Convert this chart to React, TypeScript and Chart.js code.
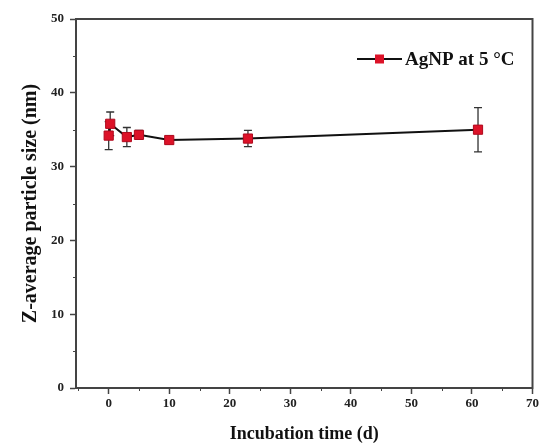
import React, { useEffect, useRef } from "react";
import { Chart, registerables } from "chart.js";

Chart.register(...registerables);

const days = [0, 0.25, 3, 5, 10, 23, 61];
const sizes = [34.2, 35.8, 34.0, 34.3, 33.6, 33.8, 35.0];
const errors = [1.9, 1.6, 1.3, 0.6, 0.5, 1.1, 3.0];
const xTicks = [0, 10, 20, 30, 40, 50, 60, 70];
const xMinorTicks = [-5, 5, 15, 25, 35, 45, 55, 65];
const yMinorTicks = [5, 15, 25, 35, 45];
const seriesLabel = "AgNP at 5 °C";

const SERIF = '"Liberation Serif", "DejaVu Serif", serif';
const RED = "#dc1228";

const extras = {
  id: "extras",
  beforeDatasetsDraw(chart: any) {
    const ctx = chart.ctx;
    const xs = chart.scales.x;
    const ys = chart.scales.y;
    ctx.save();
    ctx.strokeStyle = "#333";
    ctx.lineWidth = 1.3;
    days.forEach((d, i) => {
      const px = xs.getPixelForValue(d);
      const top = ys.getPixelForValue(sizes[i] + errors[i]);
      const bot = ys.getPixelForValue(sizes[i] - errors[i]);
      ctx.beginPath();
      ctx.moveTo(px, top);
      ctx.lineTo(px, bot);
      ctx.moveTo(px - 4, top);
      ctx.lineTo(px + 4, top);
      ctx.moveTo(px - 4, bot);
      ctx.lineTo(px + 4, bot);
      ctx.stroke();
    });
    ctx.restore();
  },
  afterDraw(chart: any) {
    const ctx = chart.ctx;
    const a = chart.chartArea;
    const xs = chart.scales.x;
    const ys = chart.scales.y;
    ctx.save();
    ctx.strokeStyle = "#444";
    ctx.lineWidth = 2;
    ctx.strokeRect(a.left, a.top, a.right - a.left, a.bottom - a.top);
    ctx.lineWidth = 1;
    ctx.strokeStyle = "#444";
    xMinorTicks.forEach((v) => {
      if (v < xs.min || v > xs.max) return;
      const px = Math.round(xs.getPixelForValue(v)) + 0.5;
      ctx.beginPath();
      ctx.moveTo(px, a.bottom);
      ctx.lineTo(px, a.bottom + 3);
      ctx.stroke();
    });
    yMinorTicks.forEach((v) => {
      const py = Math.round(ys.getPixelForValue(v)) + 0.5;
      ctx.beginPath();
      ctx.moveTo(a.left, py);
      ctx.lineTo(a.left - 3, py);
      ctx.stroke();
    });
    // legend
    const ly = 59;
    ctx.strokeStyle = "#111";
    ctx.lineWidth = 2;
    ctx.beginPath();
    ctx.moveTo(357, ly);
    ctx.lineTo(402, ly);
    ctx.stroke();
    ctx.fillStyle = RED;
    ctx.fillRect(375, ly - 4.5, 9, 9);
    ctx.fillStyle = "#111";
    ctx.font = `bold 19px ${SERIF}`;
    ctx.textBaseline = "middle";
    ctx.textAlign = "left";
    ctx.fillText(seriesLabel, 405, ly + 1);
    ctx.restore();
  },
};

export default function App() {
  const ref = useRef<HTMLCanvasElement>(null);
  useEffect(() => {
    if (!ref.current) return;
    const chart = new Chart(ref.current, {
      type: "line",
      data: {
        datasets: [
          {
            label: seriesLabel,
            data: days.map((d, i) => ({ x: d, y: sizes[i] })),
            borderColor: "#111",
            borderWidth: 2,
            pointStyle: "rect",
            pointRadius: 6.5,
            pointBackgroundColor: RED,
            pointBorderColor: "#b00a1e",
            pointBorderWidth: 1,
            fill: false,
            tension: 0,
          },
        ],
      },
      plugins: [extras],
      options: {
        responsive: false,
        animation: false,
        layout: { padding: { left: 0, top: 19, right: 8, bottom: 0 } },
        plugins: {
          legend: { display: false },
          tooltip: { enabled: false },
        },
        scales: {
          x: {
            type: "linear",
            min: -5.4,
            max: 70,
            afterFit: (s: any) => {
              s.height = 57;
            },
            afterBuildTicks: (s: any) => {
              s.ticks = xTicks.map((v) => ({ value: v }));
            },
            grid: {
              drawOnChartArea: false,
              drawTicks: true,
              tickLength: 6,
              tickColor: "#444",
              tickWidth: 1.5,
            },
            border: { display: true, color: "#444", width: 2 },
            ticks: {
              padding: 2,
              color: "#222",
              font: { family: SERIF, size: 13, weight: "bold" },
              maxRotation: 0,
            },
            title: {
              display: true,
              text: "Incubation time (d)",
              color: "#111",
              font: { family: SERIF, size: 18, weight: "bold" },
              padding: { top: 0, bottom: 0 },
            },
          },
          y: {
            type: "linear",
            min: 0,
            max: 50,
            afterFit: (s: any) => {
              s.width = 76;
            },
            grid: {
              drawOnChartArea: false,
              drawTicks: true,
              tickLength: 6,
              tickColor: "#444",
              tickWidth: 1.5,
            },
            border: { display: true, color: "#444", width: 2 },
            ticks: {
              stepSize: 10,
              padding: 6,
              color: "#222",
              font: { family: SERIF, size: 13, weight: "bold" },
            },
            title: {
              display: true,
              text: "Z-average particle size (nm)",
              color: "#111",
              font: { family: SERIF, size: 20, weight: "bold" },
              padding: { top: 19, bottom: 0 },
            },
          },
        },
      },
    } as any);
    return () => chart.destroy();
  }, []);
  return (
    <div style={{ position: "fixed", left: 0, top: 0, width: 541, height: 445, background: "#fff" }}>
      <canvas ref={ref} width={541} height={445} />
    </div>
  );
}
